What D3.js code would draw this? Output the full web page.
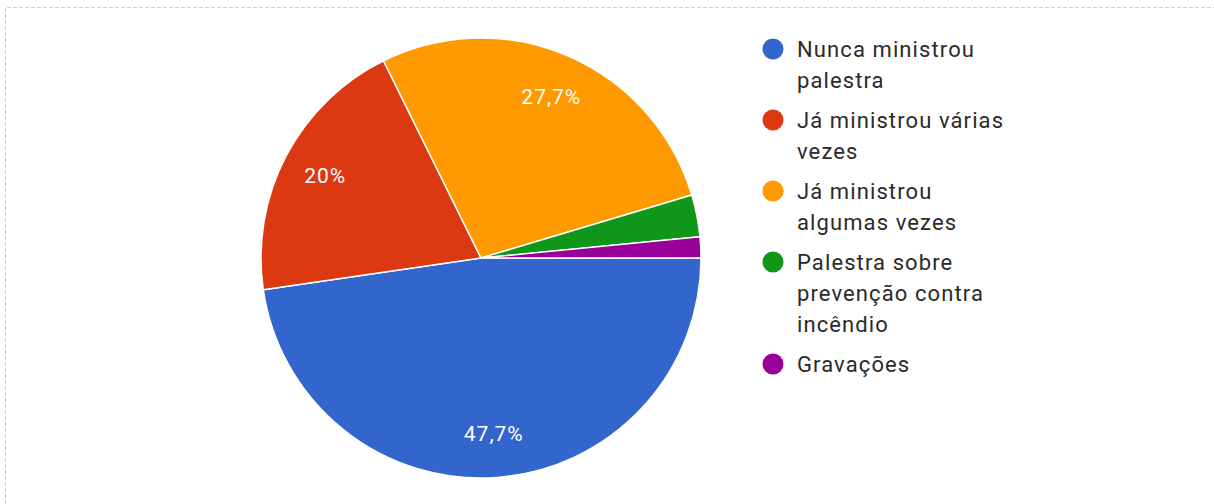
<!DOCTYPE html>
<html>
<head>
<meta charset="utf-8">
<script src="https://cdn.jsdelivr.net/npm/d3@7"></script>
<style>
  html, body { margin: 0; padding: 0; background: #fff; }
  svg { display: block; }
</style>
</head>
<body>
<svg id="chart" width="1214" height="504"></svg>
<script>
// Respostas por categoria
const categories = [
  "Nunca ministrou\npalestra",
  "Já ministrou várias\nvezes",
  "Já ministrou\nalgumas vezes",
  "Palestra sobre\nprevenção contra\nincêndio",
  "Gravações"
];
const counts = [31, 13, 18, 2, 1];
const colors = ["#3366cc", "#dc3912", "#ff9900", "#109618", "#990099"];

const svg = d3.select("#chart");
const W = 1214, H = 504;

// dashed frame
svg.append("path")
  .attr("d", `M5.5,${H} L5.5,7.5 L${W},7.5`)
  .attr("fill", "none")
  .attr("stroke", "#d0d0d0")
  .attr("stroke-width", 1)
  .attr("stroke-dasharray", "4,2");

const cx = 481, cy = 258, R = 220;
const total = d3.sum(counts);

const pie = d3.pie()
  .sort(null)
  .startAngle(Math.PI / 2)
  .endAngle(Math.PI / 2 + 2 * Math.PI);

const arcs = pie(counts);
const arc = d3.arc().innerRadius(0).outerRadius(R);
const labelArc = d3.arc().innerRadius(R * 0.8).outerRadius(R * 0.8);

const g = svg.append("g").attr("transform", `translate(${cx},${cy})`);

g.selectAll("path.slice")
  .data(arcs)
  .join("path")
  .attr("class", "slice")
  .attr("d", arc)
  .attr("fill", (d, i) => colors[i])
  .attr("stroke", "#ffffff")
  .attr("stroke-width", 1.5)
  .attr("stroke-linejoin", "round");

const fmt = v => {
  const p = Math.round(v / total * 1000) / 10;
  return (Number.isInteger(p) ? p.toFixed(0) : p.toFixed(1)).replace(".", ",") + "%";
};

g.selectAll("text.pct")
  .data(arcs.filter(d => d.value / total >= 0.05))
  .join("text")
  .attr("class", "pct")
  .attr("transform", d => `translate(${labelArc.centroid(d)})`)
  .attr("text-anchor", "middle")
  .attr("dominant-baseline", "central")
  .attr("fill", "#ffffff")
  .attr("font-family", "Roboto, Arial, sans-serif")
  .attr("font-size", 21)
  .attr("letter-spacing", 1)
  .text(d => fmt(d.value));

// legend
const lx = 773, ly0 = 49, lineH = 31, gap = 9;
const legend = svg.append("g")
  .attr("font-family", "Roboto, Arial, sans-serif")
  .attr("font-size", 22)
  .attr("letter-spacing", 1.1);
let y = ly0;
categories.forEach((label, i) => {
  const lines = label.split("\n");
  legend.append("circle")
    .attr("cx", lx).attr("cy", y).attr("r", 10.5)
    .attr("fill", colors[i]);
  const t = legend.append("text")
    .attr("x", lx + 24).attr("y", y)
    .attr("dominant-baseline", "central")
    .attr("fill", "#2a2a2a");
  lines.forEach((ln, j) => {
    t.append("tspan").attr("x", lx + 24).attr("dy", j === 0 ? 0 : lineH).text(ln);
  });
  y += lines.length * lineH + gap;
});
</script>
</body>
</html>
